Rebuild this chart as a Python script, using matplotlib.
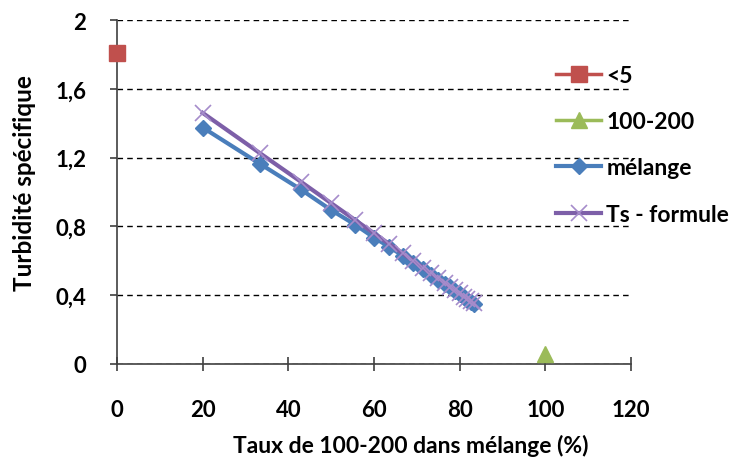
import matplotlib
matplotlib.use("Agg")
import matplotlib.pyplot as plt
from matplotlib.ticker import FixedLocator, FuncFormatter

plt.rcParams['font.family'] = ['Lato', 'DejaVu Sans']

# Data
x_lt5 = [0]
y_lt5 = [1.81]
x_100 = [100]
y_100 = [0.06]
x_mel = [20.0, 33.3, 42.9, 50.0, 55.6, 60.0, 63.6, 66.7, 69.2, 71.4,
         73.3, 75.0, 76.5, 77.8, 78.9, 80.0, 81.0, 81.8, 82.6, 83.3]
y_mel = [1.375, 1.165, 1.015, 0.895, 0.81, 0.735, 0.68, 0.63, 0.59, 0.55,
         0.52, 0.49, 0.465, 0.445, 0.425, 0.405, 0.39, 0.375, 0.36, 0.35]
y_ts = [1.46, 1.227, 1.06, 0.935, 0.837, 0.76, 0.697, 0.643, 0.599, 0.56,
        0.527, 0.498, 0.471, 0.449, 0.429, 0.41, 0.392, 0.378, 0.364, 0.352]
labels = ['<5', '100-200', 'mélange', 'Ts - formule']
x_ticks = [0, 20, 40, 60, 80, 100, 120]
y_ticks = [0, 0.4, 0.8, 1.2, 1.6, 2.0]

W, H = 738, 464
fig = plt.figure(figsize=(W / 100, H / 100), dpi=100)
x0, x1, y0, y1 = 117, 631, 365, 21
ax = fig.add_axes([x0 / W, 1 - y0 / H, (x1 - x0) / W, (y0 - y1) / H])

ax.plot(x_lt5, y_lt5, color='#C0504D', lw=2.5, marker='s', ms=12,
        markeredgecolor='#C0504D', label=labels[0], clip_on=False, zorder=5)
ax.plot(x_100, y_100, color='#9BBB59', lw=2.5, marker='^', ms=12,
        markeredgecolor='#9BBB59', label=labels[1], clip_on=False, zorder=5)
ax.plot(x_mel, y_mel, color='#4A7EBB', lw=3, marker='D', ms=8,
        markeredgecolor='#4A7EBB', label=labels[2], zorder=3)
ax.plot(x_mel, y_ts, color='#7D5FA8', lw=3, marker='x', ms=11,
        markeredgecolor='#A58CCB', markeredgewidth=1.2, label=labels[3], zorder=4)

ax.set_xlim(0, 120)
ax.set_ylim(0, 2)
ax.xaxis.set_major_locator(FixedLocator(x_ticks))
ax.yaxis.set_major_locator(FixedLocator(y_ticks))
fmt = FuncFormatter(lambda v, p: ('%g' % v).replace('.', ','))
ax.xaxis.set_major_formatter(fmt)
ax.yaxis.set_major_formatter(fmt)

for s in ['top', 'right']:
    ax.spines[s].set_visible(False)
for s in ['left', 'bottom']:
    ax.spines[s].set_color('#404040')
    ax.spines[s].set_linewidth(1.2)

ax.tick_params(axis='x', direction='inout', length=10, width=1.2, color='#404040',
               labelsize=16, pad=20)
ax.tick_params(axis='y', direction='out', length=5, width=1.2, color='#404040',
               labelsize=16, pad=17)
for t in ax.get_xticklabels() + ax.get_yticklabels():
    t.set_fontweight('bold')

ax.yaxis.grid(True, linestyle=(0, (4, 3)), color='black', linewidth=1)
ax.set_axisbelow(True)

ax.set_xlabel('Taux de 100-200 dans mélange (%)', fontsize=16.5, fontweight='bold')
ax.set_ylabel('Turbidité spécifique', fontsize=17.5, fontweight='bold')
ax.xaxis.set_label_coords((411 - x0) / (x1 - x0), -(446 - y0) / (y0 - y1))
ax.yaxis.set_label_coords(-(x0 - 25) / (x1 - x0), (y0 - 183) / (y0 - y1))
ax.xaxis.label.set_va('center')
ax.yaxis.label.set_va('center')

leg = ax.legend(loc='upper left', bbox_to_anchor=(556 / W, 1 - 66 / H),
                bbox_transform=fig.transFigure, frameon=False, fontsize=16.5,
                labelspacing=1.1, handlelength=1.97, handletextpad=0.22,
                borderaxespad=0, borderpad=0)
for t in leg.get_texts():
    t.set_fontweight('bold')

fig.savefig('out.png', dpi=100)
